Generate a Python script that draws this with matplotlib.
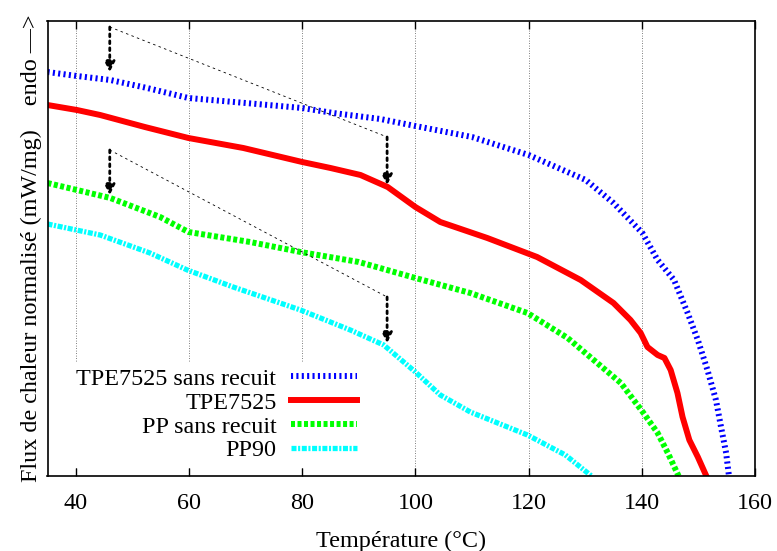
import matplotlib
matplotlib.use("Agg")
import matplotlib.pyplot as plt

plt.rcParams['font.family'] = ['Liberation Serif', 'DejaVu Serif']
plt.rcParams['font.size'] = 17.4

# --- données (flux en unités arbitraires) --- #
t_tpe_sr = [35, 40.2, 46.1, 52.6, 59.9, 70, 80, 85.5, 93.8, 100, 110, 120, 130.1, 135,
            140.1, 142.8, 145.7, 148.1, 149.9, 151.6, 153.1, 154.0, 154.9, 155.4]
f_tpe_sr = [4.04, 4.00, 3.96, 3.88, 3.78, 3.73, 3.68, 3.63, 3.57, 3.50, 3.39, 3.21, 2.96, 2.73,
            2.43, 2.16, 1.96, 1.63, 1.36, 1.06, 0.76, 0.49, 0.23, 0.0]

t_tpe = [35, 40.2, 44.3, 52.2, 59.9, 69.6, 80, 85, 90.3, 95.1, 100, 104.4, 112.7, 121.5, 129.2,
         135, 138, 139.8, 141, 142.8, 144, 145.1, 146.3, 147.2, 148.4, 149.9, 151.4]
f_tpe = [3.71, 3.66, 3.61, 3.49, 3.38, 3.28, 3.14, 3.08, 3.01, 2.89, 2.69, 2.54, 2.38, 2.19, 1.96,
         1.73, 1.56, 1.43, 1.29, 1.21, 1.18, 1.06, 0.83, 0.59, 0.36, 0.19, 0.0]

t_pp_sr = [35, 40.2, 46.1, 54.9, 59.9, 70.8, 79.7, 90, 100, 109.7, 119.8, 126.9, 131.5,
           136.3, 140.3, 142.8, 144.6, 146.5]
f_pp_sr = [2.93, 2.86, 2.78, 2.59, 2.44, 2.34, 2.24, 2.14, 1.98, 1.83, 1.63, 1.38, 1.16,
           0.93, 0.63, 0.43, 0.23, 0.0]

t_pp90 = [35, 44.3, 53.1, 59.7, 67.8, 79.7, 88.5, 94.4, 100, 104.4, 109.7, 119.8, 126.5, 131.1]
f_pp90 = [2.52, 2.41, 2.23, 2.06, 1.89, 1.66, 1.46, 1.31, 1.04, 0.81, 0.64, 0.41, 0.21, 0.0]

labels = ["TPE7525 sans recuit", "TPE7525", "PP sans recuit", "PP90"]
xticks = [40, 60, 80, 100, 120, 140, 160]

# flèches : température, départ (haut), pointe
arrow_t = [46, 95]
arrow_top_1 = [4.49, 3.39]
arrow_tip_1 = [4.04, 2.91]
arrow_top_2 = [3.26, 1.79]
arrow_tip_2 = [2.81, 1.33]

fig = plt.figure(figsize=(7.77, 5.51), dpi=100)
ax = fig.add_axes([47.5 / 777, 75 / 551, 707.5 / 777, 455 / 551])

ax.plot(t_tpe_sr, f_tpe_sr, color="#0000ff", lw=4.3, linestyle=(0, (0.35, 0.55)),
        dash_capstyle="butt", label=labels[0])
ax.plot(t_tpe, f_tpe, color="#ff0000", lw=4.3, linestyle="-", label=labels[1])
ax.plot(t_pp_sr, f_pp_sr, color="#00ff00", lw=4.3, linestyle=(0, (0.67, 0.42)),
        dash_capstyle="butt", label=labels[2])
ax.plot(t_pp90, f_pp90, color="#00ffff", lw=3.8, linestyle=(0, (0.95, 0.3, 0.4, 0.3)),
        dash_capstyle="butt", label=labels[3])

# --- annotations (flèches pointillées + liaisons) --- #
for tops, tips in [(arrow_top_1, arrow_tip_1), (arrow_top_2, arrow_tip_2)]:
    ax.plot(arrow_t, tops, color="black", lw=0.6, linestyle=(0, (3, 4)))
    for t, y0, y1 in zip(arrow_t, tops, tips):
        ax.annotate("", xy=(t, y1), xytext=(t, y0),
                    arrowprops=dict(arrowstyle="-|>,head_length=0.35,head_width=0.18",
                                    linestyle=(0, (1, 1.5)), lw=2, color="black",
                                    shrinkA=0, shrinkB=0))

ax.set_xlim(35, 160)
ax.set_ylim(0, 4.55)
ax.set_xticks(xticks)
ax.set_yticks([])
ax.tick_params(axis="x", direction="in", top=True, length=6, width=1, pad=12)
ax.grid(axis="x", color="#555555", linestyle=(0, (1, 2)), lw=0.6)
ax.set_axisbelow(True)
for s in ax.spines.values():
    s.set_linewidth(1.2)

ax.set_xlabel("Température (°C)", labelpad=12)
ax.set_ylabel("Flux de chaleur normalisé (mW/mg)    endo —>", labelpad=4)

leg = ax.legend(loc="lower right", bbox_to_anchor=(0.462, -0.005), markerfirst=False,
                frameon=True, fancybox=False, framealpha=1, edgecolor="white",
                handlelength=2.73, handletextpad=0.62, labelspacing=0.08, borderpad=0.2)
for col in leg._legend_handle_box.get_children():
    col.align = "right"

fig.savefig("out.png", dpi=100)
